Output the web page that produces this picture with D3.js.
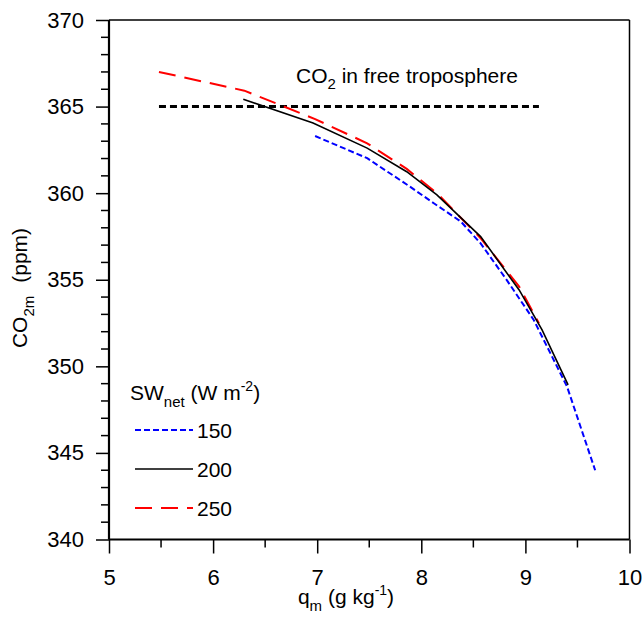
<!DOCTYPE html>
<html><head><meta charset="utf-8">
<script src="https://cdn.jsdelivr.net/npm/d3@7"></script>
<style>body{margin:0;background:#fff}text{font-family:"Liberation Sans",Arial,sans-serif;fill:#000}</style>
</head><body><svg id="c" width="644" height="620"></svg>
<script>
const xTicks=[5,6,7,8,9,10];
const yTicks=[340,345,350,355,360,365,370];
const q150=[6.98,7.48,7.89,8.12,8.38,8.57,8.82,9.08,9.40,9.67];
const c150=[363.3,362.02,360.38,359.42,358.36,357.1,354.99,352.68,348.83,344.0];
const q200=[6.29,6.96,7.48,7.86,8.15,8.57,8.94,9.16,9.41];
const c200=[365.42,364.05,362.6,361.24,359.9,357.49,354.41,352.1,348.93];
const q250=[5.48,6.3,6.98,7.48,7.86,8.15,8.57,8.94,9.13];
const c250=[367.0,365.92,364.28,362.88,361.4,360.0,357.4,354.6,352.49];
const freeTropX=[5.48,9.13];
const freeTropCO2=365;
const legendLabels=["150","200","250"];

const svg=d3.select("#c");
const L=109,R=629.5,T=20,B=539.5;
const x=d3.scaleLinear().domain([5,10]).range([L,R]);
const y=d3.scaleLinear().domain([340,370]).range([B,T]);

svg.append("line").attr("x1",L).attr("x2",R).attr("y1",T).attr("y2",T).attr("stroke","#000").attr("stroke-width",1.5);
svg.append("line").attr("x1",R).attr("x2",R).attr("y1",T).attr("y2",B).attr("stroke","#000").attr("stroke-width",1.5);

const yMinor=d3.range(341,370).filter(v=>v%5!==0);
svg.selectAll(".ym").data(yMinor).enter().append("line").attr("x1",L).attr("x2",L-8).attr("y1",d=>y(d)).attr("y2",d=>y(d)).attr("stroke","#000").attr("stroke-width",1.5);
const xMinor=[5.5,6.5,7.5,8.5,9.5];
svg.selectAll(".xm").data(xMinor).enter().append("line").attr("x1",d=>x(d)).attr("x2",d=>x(d)).attr("y1",B).attr("y2",B+8).attr("stroke","#000").attr("stroke-width",1.5);

const ya=svg.append("g").attr("transform",`translate(${L},0)`).call(d3.axisLeft(y).tickValues(yTicks).tickSize(13).tickPadding(12).tickFormat(d3.format("d")));
const xa=svg.append("g").attr("transform",`translate(0,${B})`).call(d3.axisBottom(x).tickValues(xTicks).tickSize(14).tickPadding(16).tickFormat(d3.format("d")));
[ya,xa].forEach(g=>{g.select(".domain").attr("stroke-width",2.2);g.selectAll(".tick line").attr("stroke-width",1.5);g.selectAll("text").attr("font-size",22).attr("font-family","Liberation Sans, Arial, sans-serif").attr("fill","#000");});
ya.select(".domain").attr("d",`M0,${T}V${B}`);
xa.select(".domain").attr("d",`M${L},0H${R}`);

const line=d3.line().x(d=>x(d[0])).y(d=>y(d[1]));
const zip=(a,b)=>a.map((v,i)=>[v,b[i]]);

svg.append("path").attr("d",line(freeTropX.map(v=>[v,freeTropCO2]))).attr("stroke","#000").attr("stroke-width",3).attr("stroke-dasharray","7,4").attr("fill","none");
const lab=svg.append("text").attr("x",296).attr("y",83).attr("font-size",21);
lab.append("tspan").text("CO");
lab.append("tspan").attr("font-size",15).attr("dy",6).text("2");
lab.append("tspan").attr("dy",-6).text(" in free troposphere");

const styles=[{c:"#0000ff",w:2,d:"6,3"},{c:"#000",w:1.6,d:null},{c:"#ff0000",w:2,d:"17,9"}];
const series=[zip(q150,c150),zip(q200,c200),zip(q250,c250)];
[2,0,1].forEach(i=>{
  const p=svg.append("path").attr("d",line(series[i])).attr("stroke",styles[i].c).attr("stroke-width",styles[i].w).attr("fill","none");
  if(styles[i].d)p.attr("stroke-dasharray",styles[i].d);
});

const lt=svg.append("text").attr("x",130).attr("y",400).attr("font-size",21);
lt.append("tspan").text("SW");
lt.append("tspan").attr("font-size",15).attr("dy",7).text("net");
lt.append("tspan").attr("dy",-7).text(" (W m");
lt.append("tspan").attr("font-size",14).attr("dy",-9).text("-2");
lt.append("tspan").attr("dy",9).text(")");
const ly=[430,469,508];
legendLabels.forEach((t,i)=>{
  const p=svg.append("line").attr("x1",135).attr("x2",193).attr("y1",ly[i]).attr("y2",ly[i]).attr("stroke",styles[i].c).attr("stroke-width",styles[i].w);
  if(styles[i].d)p.attr("stroke-dasharray",styles[i].d);
  svg.append("text").attr("x",197).attr("y",ly[i]+8).attr("font-size",21).text(t);
});

const xt=svg.append("text").attr("x",346).attr("y",604).attr("text-anchor","middle").attr("font-size",21);
xt.append("tspan").text("q");
xt.append("tspan").attr("font-size",15).attr("dy",7).text("m");
xt.append("tspan").attr("dy",-7).text(" (g kg");
xt.append("tspan").attr("font-size",14).attr("dy",-9).text("-1");
xt.append("tspan").attr("dy",9).text(")");
const yt=svg.append("text").attr("transform","translate(27,288) rotate(-90)").attr("text-anchor","middle").attr("font-size",21);
yt.append("tspan").text("CO");
yt.append("tspan").attr("font-size",15).attr("dy",7).text("2m");
yt.append("tspan").attr("dy",-7).attr("dx",13).text("(ppm)");
</script></body></html>
